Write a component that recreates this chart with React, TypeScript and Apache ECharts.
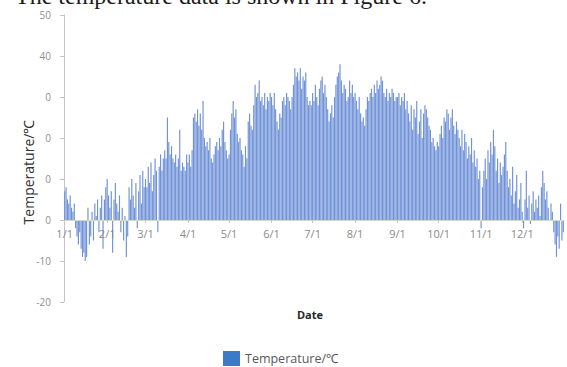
import { useEffect, useRef } from "react";
import * as echarts from "echarts";

const monthLengths = [31, 28, 31, 30, 31, 30, 31, 31, 30, 31, 30, 31];
const categories: string[] = [];
monthLengths.forEach((n, m) => {
  for (let d = 1; d <= n; d++) categories.push(`${m + 1}/${d}`);
});

const jan = [7, 8, 5, 4, 6, 3, 2, 4, -2, -4, -6, -3, -7, -9, -8, -10, -9, 3, -6, -4, 2, -5, 4, 1, 5, -3, 3, 6, -7, 5, 8];
const feb = [10, 6, 3, 7, -8, 5, 9, 4, 2, 6, -3, 3, -5, 1, -9, -4, 8, 5, 10, 6, 3, 9, -2, 7, 11, 4, 12, 8];
const mar = [10, 8, 13, 9, 14, 7, 11, 15, 12, -3, 13, 16, 12, 15, 17, 15, 25, 19, 16, 18, 15, 14, 16, 13, 15, 22, 12, 14, 13, 12, 16];
const apr = [14, 16, 13, 17, 25, 26, 24, 27, 23, 26, 22, 29, 20, 18, 19, 17, 20, 15, 14, 16, 18, 19, 17, 20, 18, 22, 24, 19, 17, 15];
const may = [16, 22, 26, 29, 25, 27, 21, 19, 20, 17, 16, 13, 18, 15, 24, 26, 23, 22, 28, 33, 30, 31, 34, 29, 30, 28, 31, 27, 30, 29, 31];
const jun = [30, 28, 31, 27, 24, 22, 26, 25, 29, 30, 28, 31, 30, 29, 27, 30, 33, 37, 35, 36, 34, 37, 32, 35, 34, 36, 30, 28, 29, 28];
const jul = [31, 29, 33, 30, 28, 32, 34, 35, 31, 33, 30, 27, 24, 26, 28, 25, 30, 33, 35, 36, 38, 34, 31, 33, 32, 29, 30, 34, 31, 33, 30];
const aug = [31, 29, 27, 30, 26, 24, 25, 23, 27, 30, 29, 31, 32, 30, 33, 31, 34, 32, 33, 35, 34, 31, 30, 32, 29, 31, 30, 32, 31, 29, 30];
const sep = [30, 31, 28, 30, 29, 31, 27, 29, 26, 24, 28, 22, 27, 25, 29, 21, 24, 27, 20, 26, 28, 27, 25, 23, 22, 19, 20, 18, 17, 19];
const oct = [18, 21, 23, 20, 25, 24, 27, 26, 22, 25, 27, 23, 21, 24, 22, 20, 18, 22, 17, 21, 19, 15, 18, 16, 20, 14, 17, 13, 15, 10, 12];
const nov = [-2, 8, 12, 15, 10, 17, 14, 19, 16, 22, 18, 12, 15, 9, 14, 11, 13, 16, 19, 12, 8, 10, 6, 13, 4, 7, 11, 3, 5, 9];
const dec = [2, -2, 5, 12, 3, 6, -1, 4, 7, 2, 5, 3, 6, 1, 8, 12, 9, 5, 7, 3, 0, 4, 2, -3, -6, -9, -4, -7, 4, -5, -3];

const temperature = [...jan, ...feb, ...mar, ...apr, ...may, ...jun, ...jul, ...aug, ...sep, ...oct, ...nov, ...dec];

const yMin = -20;
const yMax = 50;
const yTickValues = [-20, -10, 0, 10, 20, 30, 40, 50];
const yTickLabels = ["-20", "-10", "0", "0", "0", "0", "40", "50"];

const seriesName = "Temperature/℃";
const captionText = "The temperature data is shown in Figure 6.";

const GRID_TOP = 15;
const GRID_BOTTOM = 65;
const HEIGHT = 367;

export default function App() {
  const ref = useRef<HTMLDivElement>(null);
  useEffect(() => {
    if (!ref.current) return;
    const chart = echarts.init(ref.current, undefined, { renderer: "svg" });
    const monthStart = (i: number) => /^\d+\/1$/.test(categories[i]);
    const plotH = HEIGHT - GRID_TOP - GRID_BOTTOM;
    const zeroOffset = -Math.round((plotH * (0 - yMin)) / (yMax - yMin));
    chart.setOption({
      animation: false,
      backgroundColor: "#ffffff",
      grid: { left: 64, right: 3, top: GRID_TOP, bottom: GRID_BOTTOM, outerBoundsMode: "none", containLabel: false },
      legend: {
        data: [{ name: seriesName, itemStyle: { color: "#3a7bc8" } }],
        icon: "rect",
        itemWidth: 17,
        itemHeight: 15,
        itemGap: 4,
        left: 218,
        top: 346,
        textStyle: { color: "#595959", fontSize: 12.5, fontFamily: "Open Sans" },
      },
      xAxis: {
        type: "category",
        data: categories,
        offset: zeroOffset,
        z: 5,
        axisLine: { onZero: false, lineStyle: { color: "#d6d6d6" } },
        axisTick: { show: true, interval: (i: number) => monthStart(i), alignWithLabel: true, length: 3, lineStyle: { color: "#c8c8c8" } },
        axisLabel: {
          interval: (i: number) => monthStart(i),
          color: "#8a8a8a",
          fontSize: 11,
          margin: 8,
          fontFamily: "Open Sans",
        },
        splitLine: { show: false },
      },
      yAxis: {
        type: "value",
        min: yMin,
        max: yMax,
        interval: 10,
        axisLine: { show: true, lineStyle: { color: "#c4c4c4" } },
        axisTick: { show: true, length: 4, lineStyle: { color: "#c4c4c4" } },
        axisLabel: {
          color: "#8f8f8f",
          fontSize: 10,
          margin: 13,
          fontFamily: "Open Sans",
          formatter: (v: number) => {
            const k = yTickValues.indexOf(v);
            return k >= 0 ? yTickLabels[k] : String(v);
          },
        },
        splitLine: { show: false },
      },
      series: [
        {
          name: seriesName,
          type: "bar",
          data: temperature,
          barCategoryGap: "15%",
          itemStyle: { color: "#7092d8" },
        },
      ],
      graphic: [
        {
          type: "text",
          x: 15,
          y: 8,
          style: { text: captionText, font: '24px "Liberation Serif"', fill: "#1a1a1a", verticalAlign: "bottom" },
        },
        {
          type: "text",
          x: 310,
          y: 314,
          style: { text: "Date", font: 'bold 11px "Open Sans"', fill: "#262626", align: "center", verticalAlign: "middle" },
        },
        {
          type: "text",
          x: 28,
          y: 172,
          rotation: Math.PI / 2,
          style: {
            text: seriesName,
            font: '14px "Open Sans"',
            fill: "#333333",
            align: "center",
            verticalAlign: "middle",
          },
        },
      ],
    });
    return () => chart.dispose();
  }, []);
  return <div ref={ref} style={{ position: "absolute", left: 0, top: 0, width: 567, height: 367 }} />;
}
